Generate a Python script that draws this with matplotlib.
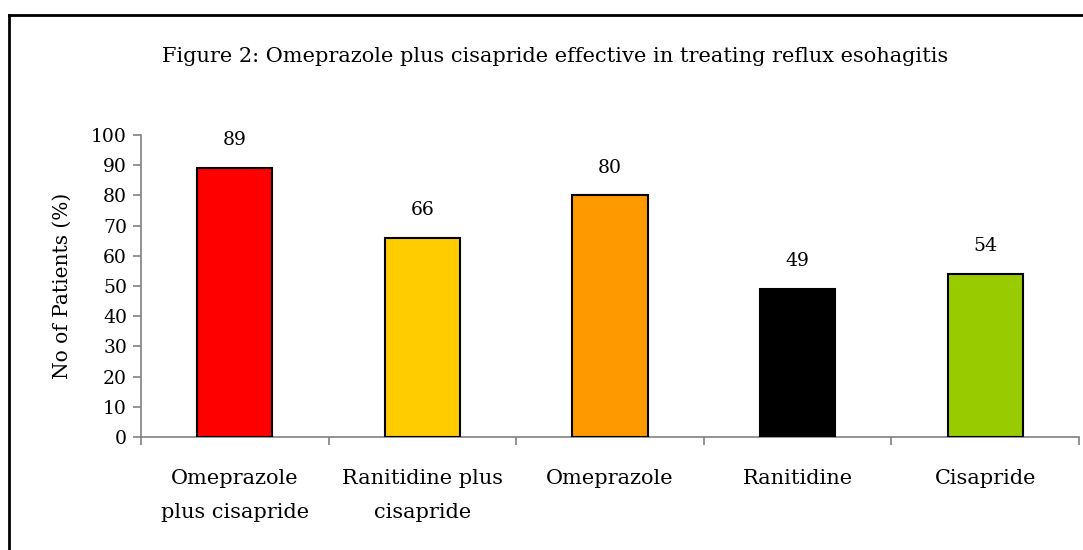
import matplotlib
matplotlib.use("Agg")
import matplotlib.pyplot as plt
from matplotlib.lines import Line2D

categories = ["Omeprazole\nplus cisapride", "Ranitidine plus\ncisapride", "Omeprazole", "Ranitidine", "Cisapride"]
values = [89, 66, 80, 49, 54]
colors = ["#FF0000", "#FFCC00", "#FF9900", "#000000", "#99CC00"]
yticks = [0, 10, 20, 30, 40, 50, 60, 70, 80, 90, 100]
title = "Figure 2: Omeprazole plus cisapride effective in treating reflux esohagitis"
ylabel = "No of Patients (%)"

plt.rcParams['font.family'] = ['DejaVu Serif']

fig = plt.figure(figsize=(10.83, 5.50), dpi=100)
ax = fig.add_axes([141/1083, 1 - 437/550, (1079 - 141)/1083, (437 - 135)/550])

x = list(range(len(categories)))
ax.bar(x, values, width=0.4, color=colors, edgecolor="black", linewidth=1.5, zorder=3)
for xi, v in zip(x, values):
    ax.annotate(str(v), (xi, v), xytext=(0, 20), textcoords="offset points",
                ha="center", va="center", fontsize=13.5)

ax.set_xlim(-0.5, len(categories) - 0.5)
ax.set_ylim(0, 100)
ax.set_yticks(yticks)
ax.set_yticklabels([str(t) for t in yticks], fontsize=13.5)
ax.set_xticks([i - 0.5 for i in range(len(categories) + 1)])
ax.set_xticklabels([""] * (len(categories) + 1))
ax.tick_params(axis="y", direction="out", length=6, color="#808080", width=1.2, pad=4)
ax.tick_params(axis="x", direction="out", length=6, color="#808080", width=1.2)
for xi, c in zip(x, categories):
    ax.text(xi, -0.105, c, transform=ax.get_xaxis_transform(), ha="center", va="top",
            fontsize=15, linespacing=2.0)

for s in ["top", "right"]:
    ax.spines[s].set_visible(False)
for s in ["left", "bottom"]:
    ax.spines[s].set_color("#808080")
    ax.spines[s].set_linewidth(1.2)

ax.set_ylabel(ylabel, fontsize=14.5, labelpad=14)
fig.text(555/1083, 1 - 57/550, title, ha="center", va="center", fontsize=15)

fig.add_artist(Line2D([8.5/1083, 8.5/1083], [0, 1 - 15/550], transform=fig.transFigure, color="black", linewidth=2))
fig.add_artist(Line2D([8.5/1083, 1], [1 - 15/550, 1 - 15/550], transform=fig.transFigure, color="black", linewidth=2))

fig.savefig("out.png", dpi=100)
